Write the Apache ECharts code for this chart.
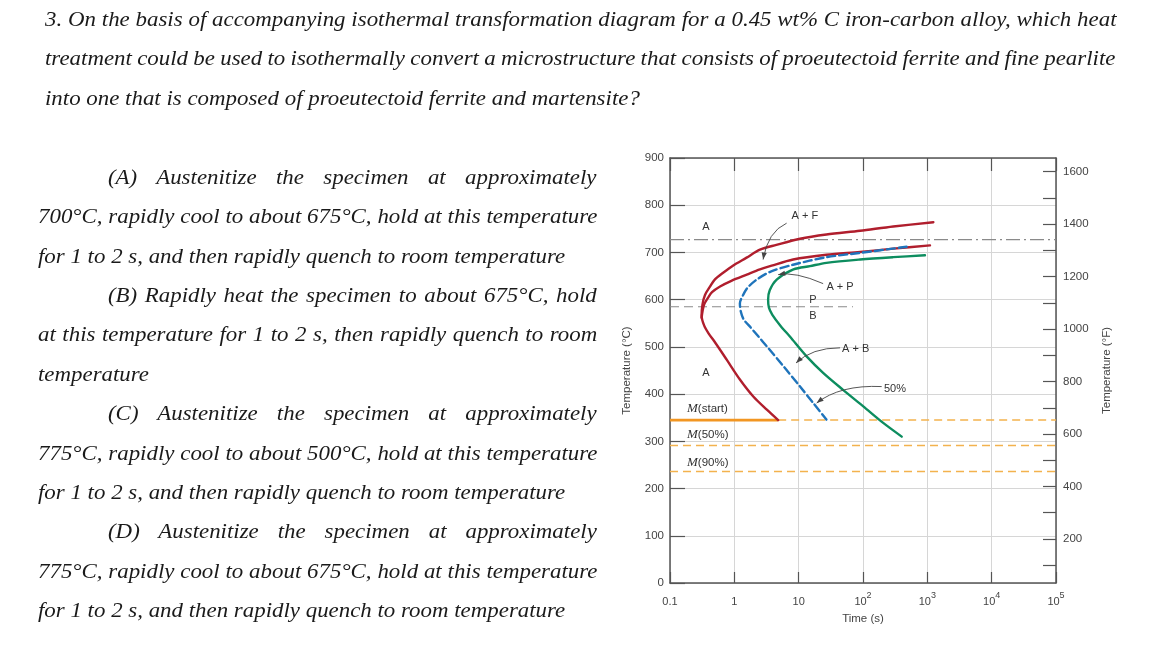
<!DOCTYPE html>
<html><head><meta charset="utf-8">
<script src="https://cdn.jsdelivr.net/npm/echarts@6/dist/echarts.min.js"></script>
<style>
html,body{margin:0;padding:0;background:#fff;width:1151px;height:662px;overflow:hidden;}
#chart{position:absolute;left:0;top:0;width:1151px;height:662px;}
.q{position:absolute;font-family:"Liberation Serif","Times New Roman",serif;font-style:italic;font-size:21px;line-height:21px;color:#1a1a1a;white-space:nowrap;transform-origin:0 0;}
</style></head><body>
<div id="chart"></div>
<div id="text"></div>
<script>
// ---------- DATA ----------
const timeDecades = [0.1, 1, 10, 100, 1000, 10000, 100000];
const tempCTicks = [0, 100, 200, 300, 400, 500, 600, 700, 800, 900];
const tempFLabels = [200, 400, 600, 800, 1000, 1200, 1400, 1600];
const tempFTicks = [100, 200, 300, 400, 500, 600, 700, 800, 900, 1000, 1100, 1200, 1300, 1400, 1500, 1600];
const eutectoidC = 727;
const pearliteBainiteC = 585;
const pearliteBainiteEndTime = 70;
const mStartC = 345;
const m50C = 291;
const m90C = 236;
const mStartSolidEndTime = 4.8;
// [time (s), temperature (°C)]
const ferriteStartCurve = [[1240,764],[295,755],[90,746],[27,738],[10.5,729],[4.5,716],[2.5,706],[1.55,689],[0.95,672],[0.67,657],[0.50,643],[0.42,628],[0.35,610],[0.32,590],[0.31,566],[0.34,545],[0.40,528],[0.47,515],[0.76,473],[1.22,431],[1.97,395],[3.2,367],[4.8,345]];
const pearliteStartCurve = [[1100,715],[295,708],[90,701],[27,695],[8.2,685],[3.8,672],[2.5,664],[1.56,653],[0.9,640],[0.6,628],[0.45,616],[0.39,604],[0.34,590],[0.32,575],[0.31,562]];
const halfTransformCurve = [[476,712],[90,699],[27,690],[8.2,674],[3.6,659],[2.2,642],[1.6,625],[1.35,608],[1.22,592],[1.26,575],[1.4,558],[1.8,541],[2.4,521],[3.2,501],[5.8,459],[10.5,416],[16.9,381],[27,346]];
const completionCurve = [[918,694],[295,690],[90,685],[27,678],[15,671],[8.3,664],[4.6,643],[3.55,620],[3.35,600],[3.45,583],[3.9,568],[5.2,545],[7.3,522],[13.3,480],[24,445],[49,409],[101,374],[206,339],[400,310]];

// ---------- QUESTION TEXT ----------
const titleLines = [
  "3. On the basis of accompanying isothermal transformation diagram for a 0.45 wt% C iron-carbon alloy, which heat",
  "treatment could be used to isothermally convert a microstructure that consists of proeutectoid ferrite and fine pearlite",
  "into one that is composed of proeutectoid ferrite and martensite?"
];
const optionLines = [
  "(A) Austenitize the specimen at approximately",
  "700°C, rapidly cool to about 675°C, hold at this temperature",
  "for 1 to 2 s, and then rapidly quench to room temperature",
  "(B) Rapidly heat the specimen to about 675°C, hold",
  "at this temperature for 1 to 2 s, then rapidly quench to room",
  "temperature",
  "(C) Austenitize the specimen at approximately",
  "775°C, rapidly cool to about 500°C, hold at this temperature",
  "for 1 to 2 s, and then rapidly quench to room temperature",
  "(D) Austenitize the specimen at approximately",
  "775°C, rapidly cool to about 675°C, hold at this temperature",
  "for 1 to 2 s, and then rapidly quench to room temperature"
];

const SX = 1.09, FS = 21;
const holder = document.getElementById('text');
function addLine(txt, left, right, baseline, justify) {
  const d = document.createElement('div');
  d.className = 'q';
  d.textContent = txt;
  d.style.left = left + 'px';
  d.style.top = (baseline - 0.8375 * FS) + 'px';
  holder.appendChild(d);
  if (justify) {
    const natural = d.offsetWidth;
    const target = (right - left) / SX;
    const spaces = (txt.match(/ /g) || []).length;
    if (spaces > 0) d.style.wordSpacing = ((target - natural) / spaces) + 'px';
  }
  d.style.transform = 'scaleX(' + SX + ')';
}
[26.5, 66, 105.5].forEach((b, i) => addLine(titleLines[i], 45, i === 0 ? 1117 : 1115, b, i < 2));
optionLines.forEach((t, i) => {
  const indented = t.charAt(0) === '(';
  const last = (i % 3 === 2);
  addLine(t, indented ? 108 : 38, 597, 184.3 + 39.4 * i, !last);
});

// ---------- CHART ----------
const chart = echarts.init(document.getElementById('chart'), null, {renderer: 'canvas'});
const axisColor = '#555';
const gridColor = '#d6d6d6';
const labelFont = 'Liberation Sans';
const red = '#b01e2d', blue = '#1f74bb', green = '#0d8d5f', orange = '#f29622', orangeDash = '#f3b24e';

function hline(name, T, t0, t1, color, width, type, z) {
  return {type: 'line', name: name, data: [[t0, T], [t1, T]], showSymbol: false, silent: true, z: z || 2,
    xAxisIndex: 0, yAxisIndex: 0,
    lineStyle: {color: color, width: width, type: type}, animation: false};
}
function curve(name, data, color, type) {
  return {type: 'line', name: name, data: data, showSymbol: false, smooth: 0.3, silent: true, z: 4,
    xAxisIndex: 0, yAxisIndex: 0,
    lineStyle: {color: color, width: 2.4, type: type || 'solid', cap: 'round', join: 'round'}, animation: false};
}
const tMin = timeDecades[0], tMax = timeDecades[timeDecades.length - 1];

const option = {
  animation: false,
  backgroundColor: 'transparent',
  grid: {left: 670, top: 158, width: 386, height: 425, containLabel: false},
  xAxis: [{
    type: 'log', logBase: 10, min: tMin, max: tMax, position: 'bottom', splitNumber: 6,
    name: 'Time (s)', nameLocation: 'middle', nameGap: 30,
    nameTextStyle: {fontFamily: labelFont, fontSize: 11.5, color: '#444'},
    axisLine: {show: true, lineStyle: {color: axisColor, width: 1.5}},
    axisTick: {show: true, inside: true, length: 11, lineStyle: {color: axisColor, width: 1.2}},
    splitLine: {show: true, lineStyle: {color: gridColor, width: 1}},
    axisLabel: {
      margin: 8, fontFamily: labelFont, fontSize: 11, color: '#444',
      formatter: function (v) {
        const e = Math.round(Math.log10(v));
        if (e === -1) return '{b|0.1}';
        if (e === 0) return '{b|1}';
        if (e === 1) return '{b|10}';
        return '{b|10}{s|' + e + '}';
      },
      rich: {
        b: {fontFamily: labelFont, fontSize: 11, color: '#444', lineHeight: 16, verticalAlign: 'bottom'},
        s: {fontFamily: labelFont, fontSize: 9, color: '#444', lineHeight: 10, verticalAlign: 'top'}
      }
    }
  }, {
    type: 'log', logBase: 10, min: tMin, max: tMax, position: 'top', splitNumber: 6,
    axisLine: {show: true, lineStyle: {color: axisColor, width: 1.5}},
    axisTick: {show: true, inside: true, length: 13, lineStyle: {color: axisColor, width: 1.2}},
    splitLine: {show: false}, axisLabel: {show: false}
  }],
  yAxis: [{
    type: 'value', min: tempCTicks[0], max: tempCTicks[tempCTicks.length - 1], interval: 100, position: 'left',
    name: 'Temperature (°C)', nameLocation: 'middle', nameGap: 37, nameRotate: 90,
    nameTextStyle: {fontFamily: labelFont, fontSize: 11.5, color: '#444'},
    axisLine: {show: true, lineStyle: {color: axisColor, width: 1.5}},
    axisTick: {show: true, inside: true, length: 15, lineStyle: {color: axisColor, width: 1.2}},
    splitLine: {show: true, lineStyle: {color: gridColor, width: 1}},
    axisLabel: {margin: 6, fontFamily: labelFont, fontSize: 11.5, color: '#444'}
  }, {
    type: 'value', min: 32, max: 32 + 1.8 * 900, position: 'right', alignTicks: false,
    name: 'Temperature (°F)', nameLocation: 'middle', nameGap: 45, nameRotate: 90,
    nameTextStyle: {fontFamily: labelFont, fontSize: 11.5, color: '#444'},
    axisLine: {show: true, lineStyle: {color: axisColor, width: 1.5}},
    axisTick: {show: true, inside: true, length: 13, customValues: tempFTicks, lineStyle: {color: axisColor, width: 1.2}},
    splitLine: {show: false},
    axisLabel: {margin: 7, fontFamily: labelFont, fontSize: 11.5, color: '#444', customValues: tempFLabels,
      formatter: function (v) { return String(Math.round(v)); }}
  }],
  series: [
    hline('Eutectoid', eutectoidC, tMin, tMax, '#8a8a8a', 1.2, [14, 4, 2, 4], 2),
    hline('P/B', pearliteBainiteC, tMin, pearliteBainiteEndTime, '#8a8a8a', 1.2, [9, 5], 2),
    hline('M(50%)', m50C, tMin, tMax, orangeDash, 1.5, [8, 5], 2),
    hline('M(90%)', m90C, tMin, tMax, orangeDash, 1.5, [8, 5], 2),
    hline('M(start) dashed', mStartC, mStartSolidEndTime, tMax, orangeDash, 1.5, [8, 5], 2),
    hline('M(start)', mStartC, tMin, mStartSolidEndTime, orange, 2.6, 'solid', 3),
    curve('Ferrite start', ferriteStartCurve, red),
    curve('Pearlite start', pearliteStartCurve, red),
    curve('50% transformation', halfTransformCurve, blue, [8, 4]),
    curve('Completion', completionCurve, green)
  ]
};
chart.setOption(option);

// ---------- ANNOTATIONS (placed through the chart's scales) ----------
function px(t, T) { return chart.convertToPixel({gridIndex: 0}, [t, T]); }
const annoFont = '11px "Liberation Sans", Arial, sans-serif';
const labels = [
  {text: 'A', t: 0.363, T: 755}, {text: 'A', t: 0.363, T: 445},
  {text: 'A + F', t: 12.5, T: 778}, {text: 'A + P', t: 44, T: 626},
  {text: 'P', t: 16.7, T: 600}, {text: 'B', t: 16.7, T: 565},
  {text: 'A + B', t: 77, T: 496}, {text: '50%', t: 314, T: 411}
];
const mLabels = [
  {m: 'M', rest: '(start)', t: 0.184, T: 369},
  {m: 'M', rest: '(50%)', t: 0.184, T: 314},
  {m: 'M', rest: '(90%)', t: 0.184, T: 255}
];
const arrows = [
  {s: [6.5, 762], c: [3.3, 744], e: [2.8, 685]},
  {s: [24, 634], c: [8.8, 660], e: [4.8, 653]},
  {s: [44, 498], c: [16, 498], e: [9.1, 466]},
  {s: [195, 416], c: [44, 420], e: [19, 381]}
];
const g = [];
labels.forEach(l => {
  const p = px(l.t, l.T);
  g.push({type: 'text', x: p[0], y: p[1], z: 10, style: {text: l.text, font: annoFont, fill: '#333', align: 'center', verticalAlign: 'middle'}});
});
mLabels.forEach(l => {
  const p = px(l.t, l.T);
  g.push({type: 'text', x: p[0], y: p[1], z: 10, style: {
    text: '{m|' + l.m + '}{r|' + l.rest + '}', align: 'left', verticalAlign: 'middle',
    rich: {
      m: {fontFamily: 'Liberation Serif', fontStyle: 'italic', fontSize: 13, fill: '#333'},
      r: {fontFamily: 'Liberation Sans', fontSize: 11.5, fill: '#333'}
    }}});
});
arrows.forEach(a => {
  const s = px(a.s[0], a.s[1]), c = px(a.c[0], a.c[1]), e = px(a.e[0], a.e[1]);
  g.push({type: 'bezierCurve', z: 9, shape: {x1: s[0], y1: s[1], x2: e[0], y2: e[1], cpx1: c[0], cpy1: c[1]},
    style: {stroke: '#444', lineWidth: 0.9, fill: null}});
  const dx = e[0] - c[0], dy = e[1] - c[1], L = Math.hypot(dx, dy) || 1;
  const ux = dx / L, uy = dy / L, len = 7, w = 2.6;
  const bx = e[0] - ux * len, by = e[1] - uy * len;
  g.push({type: 'polygon', z: 9, shape: {points: [[e[0], e[1]], [bx - uy * w, by + ux * w], [bx + uy * w, by - ux * w]]},
    style: {fill: '#444'}});
});
chart.setOption({graphic: g});
</script>
</body></html>
